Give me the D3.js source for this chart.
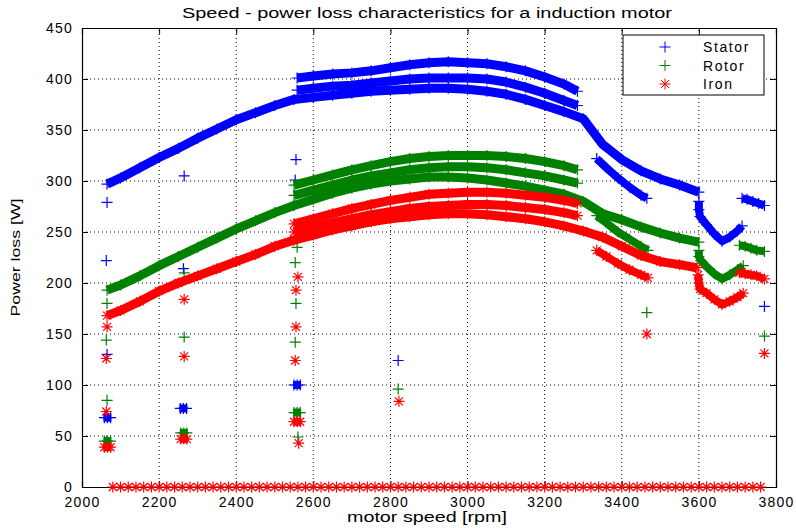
<!DOCTYPE html>
<html>
<head>
<meta charset="utf-8">
<script src="https://d3js.org/d3.v7.min.js"></script>
<style>
body { margin: 0; background: #fff; }
text { font-family: "Liberation Sans", Arial, sans-serif; fill: #000; }
</style>
</head>
<body>
<script>
//axis ticks
var xTicks = [2000, 2200, 2400, 2600, 2800, 3000, 3200, 3400, 3600, 3800];
var yTicks = [0, 50, 100, 150, 200, 250, 300, 350, 400, 450];

//legend entries
var seriesNames = ["Stator", "Rotor", "Iron"];

//stator loss bands [rpm, W]
var statorMain = [[2065,297],[2100,303],[2150,313],[2200,323],[2250,332],[2300,342],[2350,351],[2400,360],[2450,367],[2500,374],[2550,380],[2600,382],[2650,384],[2700,386],[2750,388],[2800,389],[2850,390],[2900,391],[2950,391],[3000,390],[3050,388],[3100,385],[3150,380],[3200,374],[3250,368],[3300,361],[3350,336],[3400,321],[3450,310],[3500,302],[3550,296],[3600,289]];
var statorMid = [[2558,389],[2600,391],[2650,393],[2700,394],[2750,396],[2800,398],[2850,400],[2900,401],[2950,401],[3000,401],[3050,400],[3100,397],[3150,392],[3200,386],[3250,379],[3285,374]];
var statorTop = [[2558,401],[2600,403],[2650,405],[2700,406],[2750,408],[2800,411],[2850,414],[2900,416],[2950,417],[3000,416],[3050,415],[3100,412],[3150,408],[3200,402],[3250,395],[3285,388]];
var statorLow = [[3335,322],[3360,313],[3390,303],[3420,294],[3450,286],[3465,283]];
var statorTail = [[3600,280],[3600,272],[3603,265],[3620,257],[3640,248],[3660,241],[3680,245],[3700,251],[3712,256]];
var statorBlob = [[3712,283],[3725,282],[3740,280],[3755,278],[3770,276]];
var statorSingles = [[2065,279],[2063,222],[2065,130],[2265,305],[2263,214],[2555,321],[2553,301],[2820,124],[3770,177]];
var statorClusters = [[2066,68],[2263,77],[2558,100]];

//rotor loss bands
var rotorMain = [[2065,193],[2100,198],[2150,207],[2200,217],[2250,226],[2300,235],[2350,244],[2400,253],[2450,261],[2500,269],[2550,276],[2600,282],[2650,288],[2700,293],[2750,297],[2800,300],[2850,302],[2900,304],[2950,304],[3000,303],[3050,301],[3100,298],[3150,295],[3200,291],[3250,287],[3300,280],[3350,268],[3400,262],[3450,255],[3500,249],[3550,244],[3600,240]];
var rotorMid = [[2550,286],[2600,291],[2650,296],[2700,301],[2750,305],[2800,308],[2850,311],[2900,313],[2950,314],[3000,314],[3050,313],[3100,311],[3150,308],[3200,305],[3250,301],[3285,298]];
var rotorTop = [[2550,296],[2600,301],[2650,306],[2700,311],[2750,315],[2800,319],[2850,322],[2900,324],[2950,325],[3000,325],[3050,325],[3100,324],[3150,322],[3200,319],[3250,315],[3285,311]];
var rotorLow = [[3335,266],[3360,259],[3390,250],[3420,243],[3450,236],[3468,232]];
var rotorTail = [[3600,232],[3600,226],[3605,222],[3620,216],[3640,209],[3660,204],[3680,208],[3700,213],[3715,217]];
var rotorBlob = [[3705,237],[3720,236],[3735,234],[3750,232],[3770,231]];
var rotorSingles = [[2065,180],[2063,144],[2065,85],[2265,210],[2265,147],[2558,235],[2553,220],[2555,180],[2553,142],[2560,49],[2820,96],[3465,171],[3770,148]];
var rotorClusters = [[2066,45],[2264,53],[2558,73]];

//iron loss bands
var ironMain = [[2065,168],[2100,173],[2150,182],[2200,192],[2250,200],[2300,207],[2350,214],[2400,221],[2450,228],[2500,236],[2550,242],[2600,247],[2650,252],[2700,256],[2750,260],[2800,263],[2850,265],[2900,267],[2950,268],[3000,268],[3050,267],[3100,265],[3150,263],[3200,260],[3250,256],[3300,251],[3350,245],[3400,236],[3450,227],[3500,221],[3550,218],[3595,215]];
var ironMid = [[2550,250],[2600,255],[2650,259],[2700,263],[2750,267],[2800,270],[2850,273],[2900,275],[2950,276],[3000,277],[3050,277],[3100,276],[3150,274],[3200,272],[3250,269],[3285,266]];
var ironTop = [[2550,258],[2600,263],[2650,268],[2700,273],[2750,277],[2800,281],[2850,284],[2900,287],[2950,288],[3000,289],[3050,289],[3100,288],[3150,286],[3200,284],[3250,281],[3285,278]];
var ironLow = [[3335,232],[3360,226],[3390,219],[3420,213],[3450,208],[3468,205]];
var ironTail = [[3598,208],[3600,200],[3603,194],[3620,190],[3640,184],[3660,179],[3680,182],[3700,186],[3715,190]];
var ironBlob = [[3705,210],[3720,209],[3735,208],[3750,207],[3770,204]];
var ironSingles = [[2065,157],[2063,126],[2063,74],[2265,184],[2265,128],[2560,206],[2555,193],[2555,157],[2553,124],[2562,43],[2822,84],[3465,150],[3770,131]];
var ironClusters = [[2066,39],[2264,47],[2558,64]];

//speeds where all losses read zero
var zeroSpeeds = [2080,2100,2120,2140,2160,2180,2200,2220,2240,2260,2280,2300,2320,2340,2360,2380,2400,2420,2440,2460,2480,2500,2520,2540,2560,2580,2600,2620,2640,2660,2680,2700,2720,2740,2760,2780,2800,2820,2840,2860,2880,2900,2920,2940,2960,2980,3000,3020,3040,3060,3080,3100,3120,3140,3160,3180,3200,3220,3240,3260,3280,3300,3320,3340,3360,3380,3400,3420,3440,3460,3480,3500,3520,3540,3560,3580,3600,3620,3640,3660,3680,3700,3720,3740,3760];

window.onload = setChart();

function setChart(){
    var width = 796,
        height = 528;
    var margin = {top: 28, right: 20, bottom: 41, left: 82};

    var svg = d3.select("body")
        .append("svg")
        .attr("width", width)
        .attr("height", height);

    var x = d3.scaleLinear().domain([2000, 3800]).range([margin.left, width - margin.right]);
    var y = d3.scaleLinear().domain([0, 450]).range([height - margin.bottom, margin.top]);

    var plusPath = "M-5.5,0H5.5M0,-5.5V5.5";
    var starPath = "M-5.5,0H5.5M0,-5.5V5.5M-4,-4L4,4M-4,4L4,-4";

    //dotted grid
    svg.append("g").selectAll("line")
        .data(xTicks.slice(1, -1))
        .enter().append("line")
        .attr("x1", d => x(d)).attr("x2", d => x(d))
        .attr("y1", y(0)).attr("y2", y(450))
        .attr("stroke", "#000").attr("stroke-dasharray", "1,3");
    svg.append("g").selectAll("line")
        .data(yTicks.slice(1, -1))
        .enter().append("line")
        .attr("y1", d => y(d)).attr("y2", d => y(d))
        .attr("x1", x(2000)).attr("x2", x(3800))
        .attr("stroke", "#000").attr("stroke-dasharray", "1,3");

    //axes with inward ticks
    var xAxis = svg.append("g")
        .attr("transform", "translate(0," + y(0) + ")")
        .call(d3.axisBottom(x).tickValues(xTicks).tickSize(-6).tickPadding(10).tickFormat(d3.format("d")));
    var yAxis = svg.append("g")
        .attr("transform", "translate(" + x(2000) + ",0)")
        .call(d3.axisLeft(y).tickValues(yTicks).tickSize(-6).tickPadding(9).tickFormat(d3.format("d")));
    svg.append("g")
        .attr("transform", "translate(0," + y(450) + ")")
        .call(d3.axisTop(x).tickValues(xTicks).tickSize(-6).tickFormat(""));
    svg.append("g")
        .attr("transform", "translate(" + x(3800) + ",0)")
        .call(d3.axisRight(y).tickValues(yTicks).tickSize(-6).tickFormat(""));
    svg.selectAll(".domain").attr("stroke", "#000").attr("stroke-width", 1.2);
    svg.selectAll(".tick line").attr("stroke", "#000");
    [xAxis, yAxis].forEach(function(a){
        a.selectAll("text")
            .style("font-size", "14px")
            .style("letter-spacing", "1.2px")
            .attr("fill", "#000");
    });

    var line = d3.line().x(d => x(d[0])).y(d => y(d[1]));

    function drawBand(data, color, sym, w){
        svg.append("path")
            .datum(data)
            .attr("d", line)
            .attr("fill", "none")
            .attr("stroke", color)
            .attr("stroke-width", w)
            .attr("stroke-linejoin", "round");
        drawMarks(data, color, sym);
    }

    function drawMarks(data, color, sym){
        svg.append("g").selectAll("path")
            .data(data)
            .enter().append("path")
            .attr("transform", d => "translate(" + x(d[0]) + "," + y(d[1]) + ")")
            .attr("d", sym)
            .attr("fill", "none")
            .attr("stroke", color)
            .attr("stroke-width", 1.2);
    }

    //clustered repeat readings: stack markers around each centre
    function drawClusters(data, color, sym){
        data.forEach(function(c){
            var pts = [[c[0]-8, c[1]], [c[0]+8, c[1]], c];
            drawMarks(pts, color, sym);
            svg.append("rect")
                .attr("x", x(c[0]) - 4).attr("y", y(c[1]) - 4)
                .attr("width", 8).attr("height", 8)
                .attr("fill", color);
        });
    }

    var blue = "#0000ff", green = "#008000", red = "#ff0000";

    [statorMain, statorMid, statorTop].forEach(b => drawBand(b, blue, plusPath, 9));
    [statorLow, statorTail, statorBlob].forEach(b => drawBand(b, blue, plusPath, 8));
    drawMarks(statorSingles, blue, plusPath);
    drawClusters(statorClusters, blue, plusPath);

    [rotorMain, rotorMid, rotorTop].forEach(b => drawBand(b, green, plusPath, 9));
    [rotorLow, rotorTail, rotorBlob].forEach(b => drawBand(b, green, plusPath, 8));
    drawMarks(rotorSingles, green, plusPath);
    drawClusters(rotorClusters, green, plusPath);

    [ironMain, ironMid, ironTop].forEach(b => drawBand(b, red, starPath, 9));
    [ironLow, ironTail, ironBlob].forEach(b => drawBand(b, red, starPath, 8));
    drawMarks(ironSingles, red, starPath);
    drawClusters(ironClusters, red, starPath);

    //zero row
    drawMarks(zeroSpeeds.map(s => [s, 0]), red, starPath);

    //title and labels
    svg.append("text")
        .attr("x", 427).attr("y", 18)
        .attr("text-anchor", "middle")
        .attr("textLength", 490).attr("lengthAdjust", "spacingAndGlyphs")
        .style("font-size", "14px")
        .text("Speed - power loss characteristics for a induction motor");
    svg.append("text")
        .attr("x", 427).attr("y", 522)
        .attr("text-anchor", "middle")
        .attr("textLength", 160).attr("lengthAdjust", "spacingAndGlyphs")
        .style("font-size", "14px")
        .text("motor speed [rpm]");
    svg.append("text")
        .attr("transform", "translate(20," + ((margin.top + height - margin.bottom) / 2) + ") rotate(-90)")
        .attr("text-anchor", "middle")
        .attr("textLength", 118).attr("lengthAdjust", "spacingAndGlyphs")
        .style("font-size", "13px")
        .text("Power loss [W]");

    //legend
    var legend = svg.append("g");
    legend.append("rect")
        .attr("x", 623).attr("y", 35)
        .attr("width", 141).attr("height", 60)
        .attr("fill", "#fff").attr("stroke", "#000");
    var legendColors = [blue, green, red],
        legendSyms = [plusPath, plusPath, starPath];
    seriesNames.forEach(function(name, i){
        var ly = 47 + i * 18.5;
        legend.append("path")
            .attr("transform", "translate(665," + ly + ")")
            .attr("d", legendSyms[i])
            .attr("fill", "none")
            .attr("stroke", legendColors[i]);
        legend.append("text")
            .attr("x", 703).attr("y", ly + 5)
            .style("font-size", "14px")
            .style("letter-spacing", "1.6px")
            .text(name);
    });
}
</script>
</body>
</html>
